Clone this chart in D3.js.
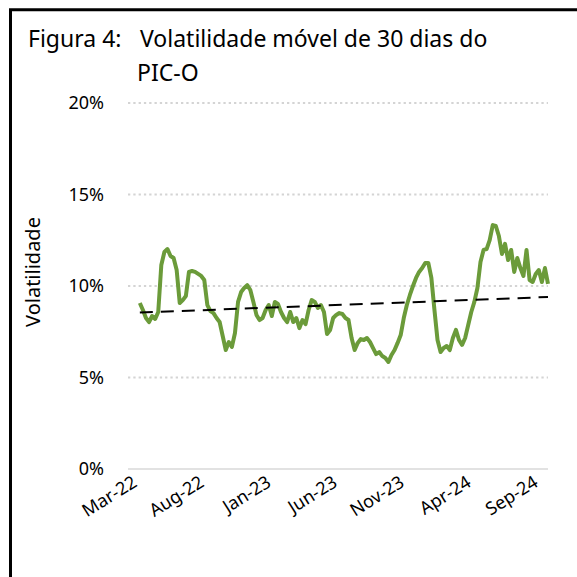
<!DOCTYPE html>
<html>
<head>
<meta charset="utf-8">
<script src="https://cdn.jsdelivr.net/npm/d3@7"></script>
<style>
  body { margin: 0; background: #fff; }
  text { font-family: "Noto Sans", "Open Sans", sans-serif; }
</style>
</head>
<body>
<div class="canva"></div>
<script>
// weekly readings of the 30 day volatility (%)
const dates = [
  "2022-03-28","2022-04-04","2022-04-11","2022-04-18","2022-04-25","2022-05-02","2022-05-09","2022-05-16","2022-05-23","2022-05-30",
  "2022-06-06","2022-06-13","2022-06-20","2022-06-27","2022-07-04","2022-07-11","2022-07-18","2022-07-25","2022-08-01","2022-08-08",
  "2022-08-15","2022-08-22","2022-08-29","2022-09-05","2022-09-12","2022-09-19","2022-09-26","2022-10-03","2022-10-10","2022-10-17",
  "2022-10-24","2022-10-31","2022-11-07","2022-11-14","2022-11-21","2022-11-28","2022-12-05","2022-12-12","2022-12-19","2022-12-26",
  "2023-01-02","2023-01-09","2023-01-16","2023-01-23","2023-01-30","2023-02-06","2023-02-13","2023-02-20","2023-02-27","2023-03-06",
  "2023-03-13","2023-03-20","2023-03-27","2023-04-03","2023-04-10","2023-04-17","2023-04-24","2023-05-01","2023-05-08","2023-05-15",
  "2023-05-22","2023-05-29","2023-06-05","2023-06-12","2023-06-19","2023-06-26","2023-07-03","2023-07-10","2023-07-17","2023-07-24",
  "2023-07-31","2023-08-07","2023-08-14","2023-08-21","2023-08-28","2023-09-04","2023-09-11","2023-09-18","2023-09-25","2023-10-02",
  "2023-10-09","2023-10-16","2023-10-23","2023-10-30","2023-11-06","2023-11-13","2023-11-20","2023-11-27","2023-12-04","2023-12-11",
  "2023-12-18","2023-12-25","2024-01-01","2024-01-08","2024-01-15","2024-01-22","2024-01-29","2024-02-05","2024-02-12","2024-02-19",
  "2024-02-26","2024-03-04","2024-03-11","2024-03-18","2024-03-25","2024-04-01","2024-04-08","2024-04-15","2024-04-22","2024-04-29",
  "2024-05-06","2024-05-13","2024-05-20","2024-05-27","2024-06-03","2024-06-10","2024-06-17","2024-06-24","2024-07-01","2024-07-08",
  "2024-07-15","2024-07-22","2024-07-29","2024-08-05","2024-08-12","2024-08-19","2024-08-26","2024-09-02","2024-09-09","2024-09-16",
  "2024-09-23","2024-09-30","2024-10-07","2024-10-14"
];
const vol = [
  9.07, 8.69, 8.25, 8.03, 8.36, 8.20, 8.58, 11.15, 11.86, 12.02,
  11.64, 11.53, 10.87, 9.07, 9.23, 9.45, 10.77, 10.82, 10.77, 10.66,
  10.55, 10.33, 8.96, 8.63, 8.52, 8.25, 8.03, 7.27, 6.50, 6.94,
  6.67, 7.43, 9.13, 9.67, 9.89, 10.05, 9.78, 9.13, 8.42, 8.14,
  8.25, 8.69, 8.96, 8.36, 9.13, 9.02, 8.58, 8.25, 8.03, 8.58,
  8.03, 8.25, 7.70, 8.14, 7.92, 8.69, 9.23, 9.13, 8.80, 8.96,
  8.58, 7.38, 7.60, 8.25, 8.42, 8.52, 8.47, 8.25, 8.14, 7.16,
  6.50, 6.89, 7.10, 7.05, 7.16, 6.94, 6.61, 6.28, 6.39, 6.17,
  6.07, 5.85, 6.23, 6.50, 6.89, 7.32, 8.25, 8.96, 9.51, 10.00,
  10.44, 10.77, 10.98, 11.26, 11.26, 10.44, 8.69, 7.05, 6.39, 6.61,
  6.72, 6.50, 7.16, 7.60, 7.05, 6.78, 7.16, 7.87, 8.58, 9.13,
  9.89, 11.31, 11.97, 12.02, 12.51, 13.33, 13.28, 12.73, 11.75, 12.30,
  11.42, 11.97, 10.77, 11.53, 10.98, 10.55, 11.97, 10.33, 10.22, 10.66,
  10.87, 10.22, 10.98, 10.11
];
// linear trend, first and last date
const trendVals = [8.55, 9.40];

const yTicks = [0, 5, 10, 15, 20];
const xTickDates = ["2022-03-01","2022-08-01","2023-01-01","2023-06-01","2023-11-01","2024-04-01","2024-09-01"];
const xDomain = ["2022-03-01", "2024-10-14"];

const parse = d3.timeParse("%Y-%m-%d");
const fmtX = d3.timeFormat("%b-%y");

const W = 577, H = 577;
const svg = d3.select(".canva").append("svg").attr("width", W).attr("height", H);

// frame
svg.append("path")
  .attr("d", "M10.5,577 L10.5,9.8 L577,9.8")
  .attr("fill", "none").attr("stroke", "#000").attr("stroke-width", 3);

// title
svg.append("text").attr("x", 28).attr("y", 47).attr("font-size", 23).text("Figura 4:");
svg.append("text").attr("x", 140).attr("y", 47).attr("font-size", 23).text("Volatilidade móvel de 30 dias do");
svg.append("text").attr("x", 137).attr("y", 81).attr("font-size", 23).text("PIC-O");

const x = d3.scaleTime().domain(xDomain.map(parse)).range([128, 548]);
const y = d3.scaleLinear().domain([0, 20]).range([469, 103]);

// gridlines
svg.append("g").selectAll("line").data(yTicks).enter().append("line")
  .attr("x1", 128).attr("x2", 548)
  .attr("y1", d => y(d)).attr("y2", d => y(d))
  .attr("stroke", d => d == 0 ? "#d9d9d9" : "#d4d4d4")
  .attr("stroke-width", d => d == 0 ? 1.5 : 2.2)
  .attr("stroke-dasharray", d => d == 0 ? null : "2.3,3");

// y labels
const yAxis = svg.append("g").attr("transform", "translate(104,0)")
  .call(d3.axisLeft(y).tickValues(yTicks).tickSize(0).tickPadding(0).tickFormat(d => d + "%"));
yAxis.select(".domain").remove();
yAxis.selectAll("text").attr("font-size", 18).attr("fill", "#000")
  .attr("font-family", "Noto Sans");

svg.append("text")
  .attr("transform", "translate(40,272) rotate(-90)")
  .attr("text-anchor", "middle").attr("font-size", 20).text("Volatilidade");

// x labels
svg.append("g").selectAll("text").data(xTickDates).enter().append("text")
  .attr("transform", d => "translate(" + (x(parse(d)) + 3) + ",474) rotate(-32)")
  .attr("text-anchor", "end").attr("dy", "0.75em")
  .attr("font-size", 18).text(d => fmtX(parse(d)));

// series
const series = dates.map((d, i) => ({date: parse(d), v: vol[i]}));
svg.append("path").datum(series)
  .attr("fill", "none").attr("stroke", "#6b9b3a").attr("stroke-width", 4)
  .attr("stroke-linejoin", "round")
  .attr("d", d3.line().x(d => x(d.date)).y(d => y(d.v)));

// trend line
const trend = [{date: parse(dates[0]), v: trendVals[0]}, {date: parse(dates[dates.length - 1]), v: trendVals[1]}];
svg.append("path").datum(trend)
  .attr("fill", "none").attr("stroke", "#000").attr("stroke-width", 2)
  .attr("stroke-dasharray", "13,8")
  .attr("d", d3.line().x(d => x(d.date)).y(d => y(d.v)));
</script>
</body>
</html>
